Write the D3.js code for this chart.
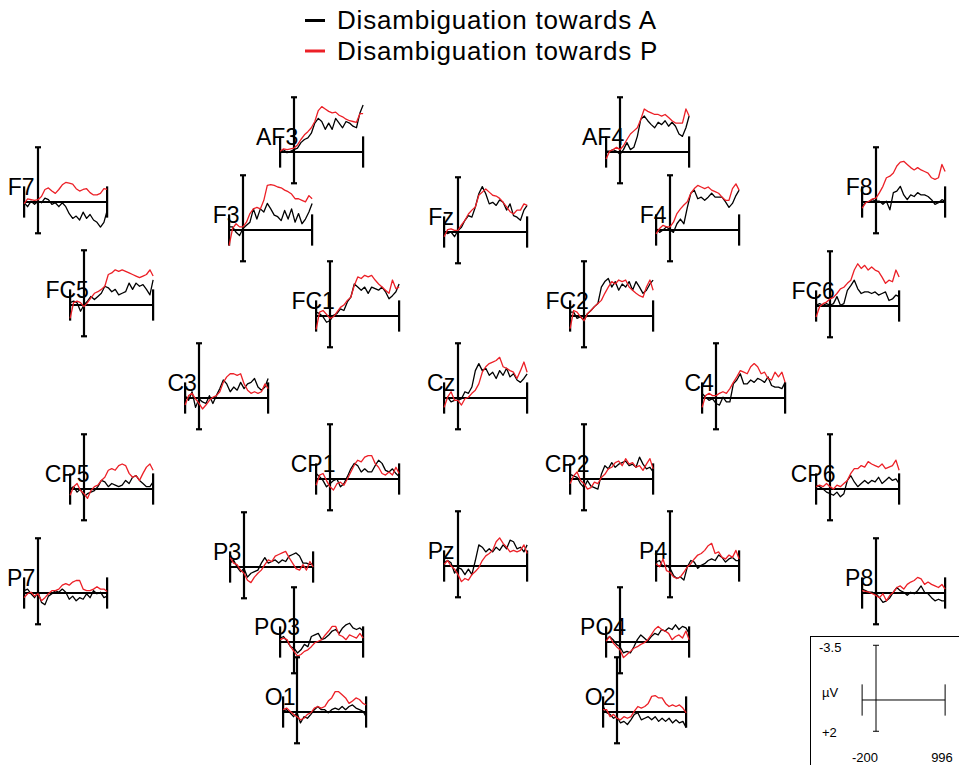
<!DOCTYPE html>
<html>
<head>
<meta charset="utf-8">
<script src="https://cdn.jsdelivr.net/npm/d3@7"></script>
<style>
  body { margin: 0; background: #fff; }
  svg { display: block; font-family: "Liberation Sans", Arial, Helvetica, sans-serif; }
</style>
</head>
<body>
<div id="d3-container"></div>
<script>
// CONST and GLOBALS
const width = 959,
  height = 765,
  panelW = 83,
  panelH = 86,
  colA = '#000000',
  colP = '#ec2027';

// DATA (µV, negative is up)
const times = [-200, -150, -100, -50, 0, 50, 100, 150, 200, 250, 300, 350, 400,
  450, 500, 550, 600, 650, 700, 750, 800, 850, 900, 950, 996];

const electrodes = ['F7', 'AF3', 'AF4', 'F8', 'F3', 'Fz', 'F4', 'FC5', 'FC1', 'FC2', 'FC6',
  'C3', 'Cz', 'C4', 'CP5', 'CP1', 'CP2', 'CP6', 'P7', 'P3', 'Pz', 'P4', 'P8',
  'PO3', 'PO4', 'O1', 'O2'];

const legendLabels = ['Disambiguation towards A', 'Disambiguation towards P'];

const scaleTicks = { yTop: '-3.5', yBottom: '+2', unit: 'µV', xLeft: '-200', xRight: '996' };

// Disambiguation towards A (black)
const towardsA = [
  [0.05,0.3,-0.05,0.15,-0.05,0.05,-0.25,-0.15,0.15,0.05,0.3,0.05,0.3,0.75,1.05,0.9,1.15,0.65,1.05,0.8,1.15,1.3,1.6,1.3,0.55], // F7
  [-0.05,-0.15,0.05,-0.05,-0.15,-0.25,-0.6,-0.8,-0.9,-1.2,-1.85,-2.15,-1.95,-1.45,-1.85,-1.45,-2.15,-1.85,-1.55,-1.95,-1.85,-1.65,-1.55,-2.5,-3.0], // AF3
  [-0.05,-0.05,-0.15,-0.05,0.15,-0.15,-0.6,-0.15,-0.3,-1.0,-2.1,-2.3,-2.0,-1.75,-1.55,-1.9,-1.75,-2.0,-1.65,-1.9,-1.65,-1.15,-1.0,-1.55,-2.3], // AF4
  [0.3,0.05,-0.05,-0.15,-0.05,-0.05,0.15,-0.05,0.5,-0.6,-0.7,-1.0,-0.45,-0.15,-0.45,-0.35,-0.6,-0.45,-0.45,-0.35,-0.15,0.15,0.05,-0.15,-0.05], // F8
  [-0.2,-0.2,0.15,0.35,-0.1,-0.3,-0.5,-1.35,-0.7,-1.35,-1.15,-1.7,-1.35,-0.95,-0.85,-0.6,-1.25,-0.7,-1.35,-0.5,-1.05,-0.4,-0.7,-1.15,-1.7], // F3
  [0,0.1,0,0.3,-0.1,-0.3,-0.75,-1.05,-0.95,-1.6,-2.45,-2.9,-2.45,-1.8,-1.9,-1.7,-2.05,-1.9,-1.4,-1.8,-1.05,-0.95,-0.75,-1.4,-1.7], // Fz
  [-0.1,0.15,0,-0.2,0,0.15,-0.4,-0.7,-0.4,-1.45,-2.35,-2.55,-2.0,-2.1,-1.9,-2.1,-2.35,-2.1,-2.1,-2.1,-1.8,-1.45,-1.7,-2.2,-2.55], // F4
  [-0.15,-0.25,-0.15,0.4,0,-0.25,-0.55,-0.35,-0.55,-0.75,-1.2,-1.1,-0.85,-1.0,-0.65,-0.75,-0.85,-1.4,-1.0,-1.4,-1.2,-1.3,-1.0,-0.65,-1.6], // FC5
  [-0.25,-0.15,0.05,0.4,0.3,-0.05,-0.15,-0.45,-0.35,-0.9,-1.2,-2.05,-1.85,-1.65,-1.85,-1.45,-1.85,-1.75,-1.65,-1.85,-1.55,-1.1,-1.3,-1.55,-2.05], // FC1
  [-0.25,-0.25,0.15,0.05,0.3,-0.15,-0.35,-0.6,-0.8,-1.85,-2.2,-2.4,-1.85,-2.2,-1.65,-2.05,-1.85,-2.2,-1.65,-2.2,-1.85,-1.45,-1.65,-2.05,-2.3], // FC2
  [-0.05,-0.15,-0.05,-0.15,-0.05,-0.15,-0.6,-0.05,-0.15,-1.0,-1.3,-1.65,-1.1,-0.8,-0.9,-0.9,-0.8,-0.9,-0.7,-0.8,-0.9,-0.35,-0.45,-0.7,-0.6], // FC6
  [-0.15,0.15,-0.4,0.6,0.05,0.25,0.35,-0.15,0.35,-0.15,-0.6,-1.15,-0.9,-0.4,-0.7,-0.5,-1.0,-0.6,-0.9,-1.0,-1.25,-0.7,-0.5,-0.7,-1.25], // C3
  [0.05,-0.05,0.25,0.15,0.15,0.05,-0.4,-0.3,-0.7,-1.75,-2.2,-1.75,-1.9,-1.45,-1.65,-1.25,-1.75,-1.45,-1.9,-1.35,-1.55,-1.15,-1.0,-1.25,-1.55], // Cz
  [-0.3,-0.05,0.15,0.05,0.35,0.45,-0.05,0.25,0.25,-0.9,-1.15,-1.55,-0.9,-0.9,-1.15,-1.0,-1.25,-1.15,-1.0,-1.35,-0.8,-0.7,-0.7,-0.6,-1.0], // C4
  [0,-0.15,0.2,0,0.5,0.3,0.2,0.1,-0.15,-0.55,-0.45,-0.15,-0.35,-0.25,-0.15,-0.25,-0.55,-0.35,-0.75,-0.85,-0.55,-0.35,-0.15,-0.15,-0.45], // CP5
  [-0.35,-0.15,0.1,0.5,0.3,0.1,0,0.5,0.3,-0.15,-0.65,-1.0,-0.85,-0.45,-0.65,-0.45,-0.45,-0.85,-1.2,-1.0,-0.55,-0.45,-0.65,-0.35,-0.15], // CP1
  [-0.3,-0.2,-0.1,0.3,0.55,0.1,0.45,0.55,0.65,-0.3,-0.85,-0.65,-1.05,-0.75,-0.95,-1.05,-1.15,-0.85,-0.95,-0.75,-1.4,-0.95,-0.65,-0.75,-0.45], // CP2
  [-0.25,-0.15,0,0.2,0.3,0.4,0.2,0.5,0.3,-0.55,-0.85,-0.45,-0.15,-0.35,-0.55,-0.35,-0.55,-0.45,-0.75,-0.35,-0.55,-0.75,-0.55,-0.65,-0.35], // CP6
  [-0.15,-0.25,0.05,0.3,-0.05,0.6,0.75,0.2,0.05,-0.15,-0.05,-0.25,-0.05,0.4,0.2,0.5,0.3,0.4,0.05,0.3,-0.15,0.05,-0.05,0.3,0.2], // P7
  [-0.25,-0.45,0,0.3,0.1,0.65,0.4,0.3,0.2,-0.25,-0.6,-0.25,-0.35,-0.45,-0.25,-0.45,-0.35,-0.7,-0.8,-0.9,-0.7,-0.25,-0.25,-0.15,-0.25], // P3
  [-0.2,-0.35,-0.2,0.45,0.1,0.2,0.55,0.2,0.55,-0.35,-1.35,-1.2,-0.9,-1.1,-0.9,-1.2,-1.0,-1.35,-1.1,-1.65,-1.55,-1.1,-1.2,-0.9,-1.35], // Pz
  [-0.25,-0.35,0.05,-0.05,0.15,0.6,0.8,0.7,0.9,0.05,-0.35,-0.25,0.15,-0.05,-0.15,-0.35,-0.45,-0.35,-0.7,-0.55,-0.25,-0.45,-0.55,-0.35,-0.35], // P4
  [-0.25,-0.15,-0.05,-0.05,0.05,0.3,0.6,0.5,0.3,-0.05,-0.35,-0.15,-0.05,0.15,-0.05,0.05,-0.15,-0.45,-0.05,0.05,0.3,0.5,0.4,0.5,0.5], // P8
  [-0.25,-0.35,-0.05,0.3,0.4,0.7,0.5,0.15,0.3,-0.35,-0.45,-0.55,-0.15,-0.25,-0.45,-0.7,-0.8,-0.55,-0.9,-1.1,-1.2,-0.9,-0.8,-0.9,-0.7], // PO3
  [-0.15,-0.35,-0.15,0.15,0.3,0.7,0.6,0.7,0.3,-0.15,-0.45,-0.25,-0.05,-0.35,-0.55,-0.45,-0.8,-0.7,-0.9,-0.8,-1.1,-0.8,-1.0,-0.9,-0.55], // PO4
  [-0.05,-0.15,0.05,0.3,0.05,0.7,0.3,0.4,0.15,-0.15,-0.35,-0.15,-0.15,0.05,-0.15,-0.25,-0.15,-0.35,-0.15,-0.35,-0.45,-0.25,-0.15,-0.05,0.3], // O1
  [-0.35,0.05,0.15,0.4,0.3,0.7,0.6,0.8,0.5,0.15,0.05,0.5,0.4,0.3,0.5,0.3,0.6,0.4,0.6,0.4,0.7,0.5,0.7,0.6,1.0] // O2
];

// Disambiguation towards P (red)
const towardsP = [
  [0.1,-0.2,-0.15,-0.1,-0.15,-0.35,-0.8,-0.9,-0.7,-0.55,-0.8,-1.1,-1.25,-1.2,-1.15,-0.85,-0.7,-0.8,-0.85,-0.6,-0.45,-0.45,-0.55,-0.85,-0.8], // F7
  [-0.05,-0.2,-0.15,-0.2,-0.25,-0.45,-0.8,-1.1,-1.3,-1.55,-1.95,-2.65,-2.9,-2.75,-2.6,-2.5,-2.55,-2.35,-2.25,-2.1,-2.0,-1.95,-1.9,-2.45,-2.45], // AF3
  [0.45,-0.05,-0.15,-0.3,-0.15,-0.4,-0.8,-1.15,-1.35,-1.55,-2.1,-2.75,-2.6,-2.5,-2.4,-2.4,-2.3,-2.4,-2.2,-2.0,-1.85,-1.85,-1.85,-2.75,-2.3], // AF4
  [0.4,0.05,-0.05,-0.2,-0.25,-0.6,-1.0,-1.55,-1.65,-1.85,-2.3,-2.55,-2.6,-2.4,-2.2,-2.05,-2.2,-2.05,-1.95,-1.85,-1.55,-1.45,-1.55,-2.4,-1.95], // F8
  [1.0,-0.1,-0.4,-0.2,-0.2,-0.5,-1.05,-1.35,-1.45,-1.35,-1.9,-2.85,-2.9,-2.85,-2.75,-2.7,-2.55,-2.45,-2.3,-2.0,-2.0,-1.9,-1.8,-2.2,-2.0], // F3
  [0.3,-0.15,-0.2,-0.1,-0.1,-0.45,-0.75,-1.15,-1.4,-1.6,-2.35,-2.55,-2.75,-2.55,-2.35,-2.3,-2.15,-1.9,-1.6,-1.3,-1.15,-1.4,-1.4,-1.8,-1.7], // Fz
  [0.25,-0.1,-0.3,-0.2,-0.2,-0.5,-1.05,-1.35,-1.6,-1.8,-2.35,-2.65,-2.85,-2.75,-2.65,-2.75,-2.55,-2.45,-2.35,-2.1,-1.9,-1.9,-2.65,-2.95,-2.55], // F4
  [0.85,-0.15,-0.25,-0.15,0.1,-0.15,-0.45,-0.75,-0.85,-1.0,-1.2,-1.95,-2.05,-2.25,-2.15,-2.25,-2.15,-2.05,-1.95,-1.85,-1.75,-1.85,-1.95,-2.25,-1.85], // FC5
  [0.85,-0.25,-0.35,-0.1,0.15,0.05,-0.25,-0.55,-0.7,-1.0,-1.2,-1.95,-2.5,-2.4,-2.6,-2.5,-2.6,-2.3,-2.05,-1.85,-1.65,-1.45,-2.3,-1.75,-1.85], // FC1
  [0.8,-0.35,-0.25,0.05,0.3,-0.15,-0.35,-0.6,-0.8,-1.0,-1.45,-1.85,-2.2,-2.05,-2.3,-2.2,-2.3,-1.85,-1.65,-1.45,-1.3,-1.2,-1.85,-2.3,-1.65], // FC2
  [0.7,0.05,-0.15,-0.25,-0.45,-0.55,-0.8,-1.1,-1.2,-1.45,-1.65,-2.3,-2.7,-2.4,-2.6,-2.3,-2.5,-2.3,-2.2,-1.85,-1.45,-1.65,-1.55,-2.3,-1.85], // FC6
  [0.45,-0.15,-0.3,0.05,0.35,0.7,0.45,0.15,-0.05,-0.15,-0.4,-1.0,-1.35,-1.55,-1.55,-1.45,-1.55,-0.9,-0.5,-0.3,-0.4,-0.3,-0.4,-0.9,-0.6], // C3
  [0.6,-0.05,-0.4,0.15,0.15,0.45,0.05,-0.05,-0.3,-0.5,-0.9,-1.65,-2.0,-2.2,-2.3,-2.4,-2.6,-2.0,-1.9,-1.75,-1.65,-1.25,-1.75,-2.3,-1.65], // Cz
  [0.6,-0.15,-0.3,-0.15,-0.15,-0.3,-0.4,-0.3,-0.6,-1.0,-1.35,-1.75,-1.65,-1.55,-2.0,-2.2,-2.0,-1.55,-1.65,-1.25,-1.15,-1.65,-1.35,-1.65,-1.0], // C4
  [0.4,-0.15,-0.35,0.1,0.3,0.6,0.1,-0.15,-0.25,-0.55,-0.75,-1.2,-1.3,-1.2,-1.5,-1.6,-1.5,-1.0,-0.75,-0.85,-0.55,-1.0,-1.4,-1.6,-1.2], // CP5
  [0.4,-0.25,-0.35,0.1,0.5,0.7,0.3,0.2,0.4,0,-0.45,-0.9,-1.2,-1.1,-1.4,-1.5,-1.5,-1.0,-0.75,-0.35,-0.25,-0.45,-0.25,-0.75,-0.35], // CP1
  [0.3,-0.2,-0.45,0.1,0.3,0.65,0.55,0.2,0.3,-0.1,-0.3,-0.65,-0.75,-1.05,-1.15,-0.85,-1.3,-0.95,-1.05,-0.75,-0.85,-0.55,-0.95,-1.3,-0.65], // CP2
  [-0.15,-0.25,-0.15,-0.35,-0.15,0,-0.25,-0.15,-0.35,-0.55,-1.0,-1.3,-1.3,-1.5,-1.4,-1.75,-1.6,-1.5,-1.4,-1.6,-1.3,-1.4,-1.5,-1.85,-1.2], // CP6
  [0.3,0.05,-0.05,0.2,0.05,0.5,0.3,0.05,-0.15,-0.15,-0.25,-0.5,-0.6,-0.5,-0.7,-0.8,-0.8,-0.25,-0.15,-0.15,-0.25,-0.4,-0.25,-0.25,-0.1], // P7
  [-0.6,-0.25,-0.15,0.2,0.4,0.85,1.0,0.65,0.4,0.2,-0.15,-0.45,-0.35,-0.7,-0.8,-0.9,-1.0,-0.6,-0.25,0.1,0.2,-0.15,0.2,-0.35,0], // P3
  [-0.1,-0.35,0,0.2,0.55,1.0,0.8,0.9,0.55,0.35,0.1,-0.35,-0.65,-0.8,-1.0,-1.55,-1.8,-1.45,-1.2,-0.9,-1.0,-0.9,-1.0,-1.35,-0.8], // Pz
  [-0.15,0.05,-0.45,0.3,0.4,0.7,0.8,0.7,0.4,0.05,-0.15,-0.45,-0.7,-0.8,-1.0,-1.3,-1.45,-0.8,-0.9,-0.55,-0.45,-0.7,-0.55,-1.0,-0.45], // P4
  [-0.15,-0.1,-0.05,0.05,0.15,0.3,0.05,0.5,0.15,-0.05,-0.35,-0.45,-0.25,-0.55,-0.7,-0.8,-1.0,-0.9,-0.55,-0.7,-0.55,-0.45,-0.35,-0.55,-0.25], // P8
  [-0.15,-0.25,-0.15,0.3,0.6,0.9,0.8,0.6,0.5,0.3,0.05,-0.05,-0.15,-0.45,-0.7,-1.0,-1.0,-0.45,-0.35,-0.15,-0.45,-0.35,-0.25,-0.55,-0.25], // PO3
  [-0.05,-0.35,0.05,0.3,0.5,1.0,0.8,0.6,0.4,0.3,0.15,0.05,-0.15,-0.45,-0.8,-1.0,-0.8,-0.7,-0.55,-0.15,-0.35,-0.45,-0.25,-0.7,-0.15], // PO4
  [-0.15,-0.25,-0.05,0.15,0.3,0.5,0.4,0.15,0.05,-0.25,-0.35,-0.25,-0.35,-0.7,-0.9,-1.3,-1.3,-1.1,-0.9,-0.55,-0.7,-0.9,-0.8,-0.55,-0.45], // O1
  [-0.15,-0.15,0.3,0.15,0.4,0.5,0.3,0.4,0.3,-0.05,-0.35,-0.25,-0.35,-0.55,-1.0,-1.05,-0.9,-0.9,-0.55,-0.35,-0.45,-0.35,-0.45,-0.25,0.05] // O2
];

// LAYOUT: pixel position of each panel origin (0 ms, 0 µV)
const panelPos = {
  F7: [38, 202], AF3: [294, 152], AF4: [620, 152], F8: [876, 202],
  F3: [243, 230], Fz: [458, 232], F4: [670, 230],
  FC5: [84, 305], FC1: [330, 316], FC2: [584, 316], FC6: [830, 306],
  C3: [199, 398], Cz: [458, 398], C4: [716, 398],
  CP5: [84, 489], CP1: [330, 479], CP2: [584, 479], CP6: [830, 489],
  P7: [38, 593], P3: [244, 567], Pz: [458, 566], P4: [670, 566], P8: [876, 593],
  PO3: [294, 642], PO4: [620, 642], O1: [297, 712], O2: [617, 712]
};
const scalePos = [876, 700];

let svg, xScale, yScale, line;

function init() {
  svg = d3.select('#d3-container')
    .append('svg')
    .attr('width', width)
    .attr('height', height);

  // same scales for every small panel
  xScale = d3.scaleLinear().domain([-200, 996]).range([0, panelW]);
  yScale = d3.scaleLinear().domain([-3.5, 2]).range([0, panelH]);

  line = d3.line()
    .x((d, i) => xScale(times[i]))
    .y(d => yScale(d));

  drawLegend();
  draw();
  drawScalePanel();
}

function drawAxes(g, sw) {
  const x0 = xScale(0), y0 = yScale(0);
  const capW = 3;
  g.append('line')
    .attr('x1', x0).attr('x2', x0)
    .attr('y1', yScale(-3.5)).attr('y2', yScale(2));
  g.append('line')
    .attr('x1', x0 - capW).attr('x2', x0 + capW)
    .attr('y1', yScale(-3.5)).attr('y2', yScale(-3.5));
  g.append('line')
    .attr('x1', x0 - capW).attr('x2', x0 + capW)
    .attr('y1', yScale(2)).attr('y2', yScale(2));
  g.append('line')
    .attr('x1', xScale(-200)).attr('x2', xScale(996))
    .attr('y1', y0).attr('y2', y0);
  [-200, 996].forEach(t => {
    g.append('line')
      .attr('x1', xScale(t)).attr('x2', xScale(t))
      .attr('y1', yScale(-1)).attr('y2', yScale(1));
  });
  g.selectAll('line').attr('stroke', '#000').attr('stroke-width', sw);
}

function draw() {
  const panels = svg.selectAll('.panel')
    .data(electrodes)
    .join('g')
    .attr('class', 'panel')
    .attr('transform', d => {
      const p = panelPos[d];
      return `translate(${p[0] - xScale(0)},${p[1] - yScale(0)})`;
    });

  panels.each(function (d, i) {
    const g = d3.select(this);

    // label sits centred just left of the -200 ms end
    g.append('text')
      .attr('x', xScale(-200) - 3)
      .attr('y', yScale(0) - 7)
      .attr('text-anchor', 'middle')
      .attr('font-size', 23)
      .attr('fill', '#000')
      .text(d);

    drawAxes(g.append('g'), 2.2);

    g.append('path')
      .datum(towardsA[i])
      .attr('fill', 'none')
      .attr('stroke', colA)
      .attr('stroke-width', 1.3)
      .attr('stroke-linejoin', 'round')
      .attr('d', line);

    g.append('path')
      .datum(towardsP[i])
      .attr('fill', 'none')
      .attr('stroke', colP)
      .attr('stroke-width', 1.3)
      .attr('stroke-linejoin', 'round')
      .attr('d', line);
  });
}

function drawLegend() {
  const lg = svg.append('g').attr('class', 'legend');
  lg.selectAll('line')
    .data(legendLabels)
    .join('line')
    .attr('x1', 305).attr('x2', 325)
    .attr('y1', (d, i) => 20.5 + i * 30.5)
    .attr('y2', (d, i) => 20.5 + i * 30.5)
    .attr('stroke', (d, i) => (i === 0 ? colA : colP))
    .attr('stroke-width', 3);
  lg.selectAll('text')
    .data(legendLabels)
    .join('text')
    .attr('x', 337)
    .attr('y', (d, i) => 29 + i * 30.5)
    .attr('font-size', 26)
    .attr('letter-spacing', 0.8)
    .attr('fill', '#000')
    .text(d => d);
}

function drawScalePanel() {
  svg.append('rect')
    .attr('x', 810.5).attr('y', 636.5)
    .attr('width', 200).attr('height', 200)
    .attr('fill', 'none')
    .attr('stroke', '#000')
    .attr('stroke-width', 1);

  const g = svg.append('g')
    .attr('transform', `translate(${scalePos[0] - xScale(0)},${scalePos[1] - yScale(0)})`);
  drawAxes(g, 1);

  const t = svg.append('g')
    .attr('font-size', 13)
    .attr('fill', '#000');
  t.append('text').attr('x', 819).attr('y', 652).text(scaleTicks.yTop);
  t.append('text').attr('x', 822).attr('y', 697).text(scaleTicks.unit);
  t.append('text').attr('x', 822).attr('y', 737).text(scaleTicks.yBottom);
  t.append('text').attr('x', 865).attr('y', 762).attr('text-anchor', 'middle').text(scaleTicks.xLeft);
  t.append('text').attr('x', 942).attr('y', 762).attr('text-anchor', 'middle').text(scaleTicks.xRight);
}

init();
</script>
</body>
</html>
